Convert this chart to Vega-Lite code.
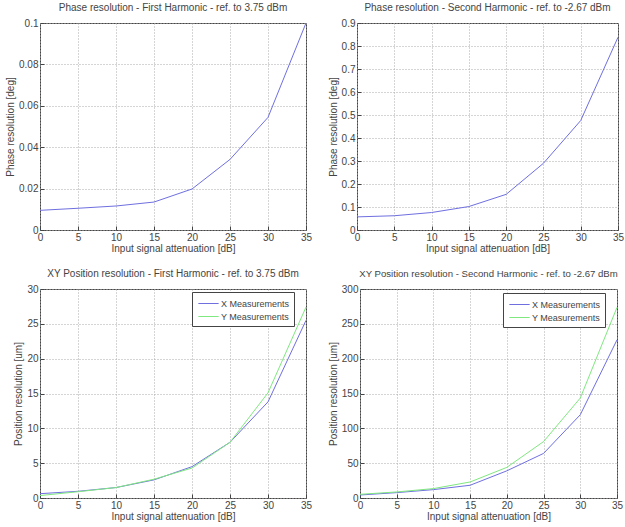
{
  "$schema": "https://vega.github.io/schema/vega-lite/v6.json",
  "padding": {"left": 5, "top": 2, "right": 0, "bottom": 0},
  "background": "white",
  "spacing": 14,
  "datasets": {
    "p1": [
      {"att": 0, "val": 0.0095}, {"att": 5, "val": 0.0105}, {"att": 10, "val": 0.0116}, {"att": 15, "val": 0.0135},
      {"att": 20, "val": 0.0198}, {"att": 25, "val": 0.0341}, {"att": 30, "val": 0.0544}, {"att": 35, "val": 0.1}
    ],
    "p2": [
      {"att": 0, "val": 0.057}, {"att": 5, "val": 0.062}, {"att": 10, "val": 0.076}, {"att": 15, "val": 0.102},
      {"att": 20, "val": 0.155}, {"att": 25, "val": 0.29}, {"att": 30, "val": 0.476}, {"att": 35, "val": 0.838}
    ],
    "p3": [
      {"att": 0, "val": 0.62, "series": "X Measurements"}, {"att": 5, "val": 0.96, "series": "X Measurements"},
      {"att": 10, "val": 1.5, "series": "X Measurements"}, {"att": 15, "val": 2.6, "series": "X Measurements"},
      {"att": 20, "val": 4.5, "series": "X Measurements"}, {"att": 25, "val": 8.0, "series": "X Measurements"},
      {"att": 30, "val": 13.8, "series": "X Measurements"}, {"att": 35, "val": 25.5, "series": "X Measurements"},
      {"att": 0, "val": 0.35, "series": "Y Measurements"}, {"att": 5, "val": 0.9, "series": "Y Measurements"},
      {"att": 10, "val": 1.5, "series": "Y Measurements"}, {"att": 15, "val": 2.7, "series": "Y Measurements"},
      {"att": 20, "val": 4.3, "series": "Y Measurements"}, {"att": 25, "val": 8.0, "series": "Y Measurements"},
      {"att": 30, "val": 15.1, "series": "Y Measurements"}, {"att": 35, "val": 27.4, "series": "Y Measurements"}
    ],
    "p4": [
      {"att": 0, "val": 4.3, "series": "X Measurements"}, {"att": 5, "val": 7.7, "series": "X Measurements"},
      {"att": 10, "val": 12, "series": "X Measurements"}, {"att": 15, "val": 18.3, "series": "X Measurements"},
      {"att": 20, "val": 39, "series": "X Measurements"}, {"att": 25, "val": 64, "series": "X Measurements"},
      {"att": 30, "val": 119.5, "series": "X Measurements"}, {"att": 35, "val": 227, "series": "X Measurements"},
      {"att": 0, "val": 5.3, "series": "Y Measurements"}, {"att": 5, "val": 8.7, "series": "Y Measurements"},
      {"att": 10, "val": 13.5, "series": "Y Measurements"}, {"att": 15, "val": 23, "series": "Y Measurements"},
      {"att": 20, "val": 44, "series": "Y Measurements"}, {"att": 25, "val": 81, "series": "Y Measurements"},
      {"att": 30, "val": 143.5, "series": "Y Measurements"}, {"att": 35, "val": 273.6, "series": "Y Measurements"}
    ]
  },
  "config": {
    "font": "Liberation Sans",
    "view": {"stroke": "#444", "strokeWidth": 1},
    "title": {"fontSize": 10, "fontWeight": "normal", "color": "#444", "offset": 5},
    "axis": {
      "labelFontSize": 10, "labelColor": "#444", "titleFontSize": 10, "titleFontWeight": "normal", "titleColor": "#444",
      "domain": false, "tickColor": "#444", "tickSize": -4, "labelPadding": 6,
      "gridColor": "#aaa", "gridDash": [1, 2], "labelFlush": false, "labelOverlap": false
    },
    "axisX": {"titlePadding": 1},
    "axisY": {"titlePadding": 3},
    "legend": {
      "title": null, "orient": "none", "strokeColor": "#444", "fillColor": "white", "padding": 4,
      "symbolType": "M-1.45,0H1.45", "symbolSize": 196, "symbolStrokeWidth": 1, "symbolOffset": 5,
      "labelFontSize": 9, "labelColor": "#444", "labelOffset": 5, "rowPadding": 0
    },
    "line": {"strokeWidth": 1}
  },
  "resolve": {"scale": {"color": "independent"}, "legend": {"color": "independent"}},
  "vconcat": [
    {
      "spacing": 14,
      "resolve": {"scale": {"color": "independent"}, "legend": {"color": "independent"}},
      "hconcat": [
        {
          "width": 266, "height": 207,
          "title": "Phase resolution - First Harmonic - ref. to 3.75 dBm",
          "data": {"name": "p1"},
          "mark": {"type": "line", "color": "#6f6fe0"},
          "encoding": {
            "x": {"field": "att", "type": "quantitative", "scale": {"domain": [0, 35], "nice": false}, "axis": {"values": [0, 5, 10, 15, 20, 25, 30, 35], "title": "Input signal attenuation [dB]"}},
            "y": {"field": "val", "type": "quantitative", "scale": {"domain": [0, 0.1], "nice": false}, "axis": {"values": [0, 0.02, 0.04, 0.06, 0.08, 0.1], "format": ".2~f", "title": "Phase resolution [deg]"}}
          }
        },
        {
          "width": 261, "height": 207,
          "title": "Phase resolution - Second Harmonic - ref. to -2.67 dBm",
          "data": {"name": "p2"},
          "mark": {"type": "line", "color": "#6f6fe0"},
          "encoding": {
            "x": {"field": "att", "type": "quantitative", "scale": {"domain": [0, 35], "nice": false}, "axis": {"values": [0, 5, 10, 15, 20, 25, 30, 35], "title": "Input signal attenuation [dB]"}},
            "y": {"field": "val", "type": "quantitative", "scale": {"domain": [0, 0.9], "nice": false}, "axis": {"values": [0, 0.1, 0.2, 0.3, 0.4, 0.5, 0.6, 0.7, 0.8, 0.9], "format": ".1~f", "title": "Phase resolution [deg]"}}
          }
        }
      ]
    },
    {
      "spacing": 14,
      "resolve": {"scale": {"color": "independent"}, "legend": {"color": "independent"}},
      "hconcat": [
        {
          "width": 266, "height": 209,
          "title": "XY Position resolution - First Harmonic - ref. to 3.75 dBm",
          "data": {"name": "p3"},
          "mark": {"type": "line"},
          "encoding": {
            "x": {"field": "att", "type": "quantitative", "scale": {"domain": [0, 35], "nice": false}, "axis": {"values": [0, 5, 10, 15, 20, 25, 30, 35], "title": "Input signal attenuation [dB]"}},
            "y": {"field": "val", "type": "quantitative", "scale": {"domain": [0, 30], "nice": false}, "axis": {"values": [0, 5, 10, 15, 20, 25, 30], "title": "Position resolution [um]"}},
            "color": {"field": "series", "type": "nominal", "scale": {"domain": ["X Measurements", "Y Measurements"], "range": ["#6f6fe0", "#7fe87f"]},
              "legend": {"legendX": 152, "legendY": 3}}
          }
        },
        {
          "width": 257, "height": 209,
          "title": {"text": "XY Position resolution - Second Harmonic - ref. to -2.67 dBm", "fontSize": 9.6},
          "data": {"name": "p4"},
          "mark": {"type": "line"},
          "encoding": {
            "x": {"field": "att", "type": "quantitative", "scale": {"domain": [0, 35], "nice": false}, "axis": {"values": [0, 5, 10, 15, 20, 25, 30, 35], "title": "Input signal attenuation [dB]"}},
            "y": {"field": "val", "type": "quantitative", "scale": {"domain": [0, 300], "nice": false}, "axis": {"values": [0, 50, 100, 150, 200, 250, 300], "title": "Position resolution [um]"}},
            "color": {"field": "series", "type": "nominal", "scale": {"domain": ["X Measurements", "Y Measurements"], "range": ["#6f6fe0", "#7fe87f"]},
              "legend": {"legendX": 143, "legendY": 4}}
          }
        }
      ]
    }
  ]
}
